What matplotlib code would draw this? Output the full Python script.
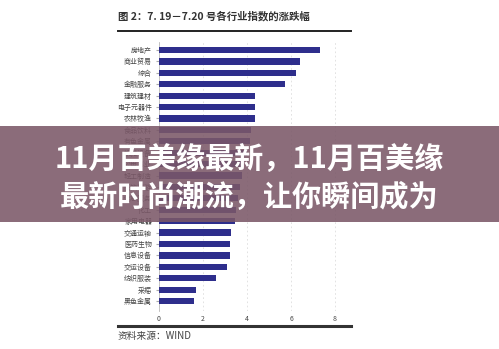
import matplotlib.pyplot as plt
from matplotlib.patches import Rectangle
from matplotlib.lines import Line2D

plt.rcParams['font.family'] = ['Noto Sans CJK SC', 'DejaVu Sans']

# 行业与涨跌幅 (%)
industries = ['房地产', '商业贸易', '综合', '金融服务', '建筑建材', '电子元器件',
              '农林牧渔', '食品饮料', '有色金属', '机械设备', '公用事业', '轻工制造',
              '餐饮旅游', '信息服务', '化工', '家用电器', '交通运输', '医药生物',
              '信息设备', '交运设备', '纺织服装', '采掘', '黑色金属']
changes = [7.32, 6.41, 6.21, 5.73, 4.38, 4.35, 4.35, 4.17, 4.13, 3.98, 3.88,
           3.77, 3.68, 3.60, 3.49, 3.44, 3.27, 3.23, 3.23, 3.09, 2.60, 1.68, 1.59]
xticks = [0, 2, 4, 6, 8]

title = '图 2：7. 19－7.20 号各行业指数的涨跌幅'
source = '资料来源：WIND'
banner_lines = ['11月百美缘最新，11月百美缘', '最新时尚潮流，让你瞬间成为']

W, H = 499, 349
fig = plt.figure(figsize=(W / 100, H / 100), dpi=100)
fig.patch.set_facecolor('white')

ax = fig.add_axes([159 / W, 1 - 311 / H, 186 / W, 269 / H])
pos = list(range(len(industries)))
ax.barh(pos, changes, height=0.55, color='#2e2e8c', zorder=3)
ax.set_yticks(pos)
ax.set_yticklabels(industries, fontsize=5, color='#444444')
ax.set_xticks(xticks)
ax.set_xticklabels([str(t) for t in xticks], fontsize=5, color='#444444')
ax.set_xlim(0, 8.45)
ax.set_ylim(22.87, -0.7)
ax.tick_params(axis='y', length=2, pad=3, color='#aaaaaa')
ax.tick_params(axis='x', length=0, pad=3)
ax.grid(axis='x', linestyle=(0, (2, 3)), color='#dddddd', linewidth=0.6, zorder=0)
for side in ['top', 'right', 'bottom']:
    ax.spines[side].set_visible(False)
ax.spines['left'].set_color('#bbbbbb')
ax.spines['left'].set_linewidth(0.6)

fig.text(118 / W, 1 - 16 / H, title, fontsize=7.5, fontweight='bold',
         color='#333333', ha='left', va='center')
fig.add_artist(Line2D([118 / W, 351 / W], [1 - 31 / H, 1 - 31 / H],
                      color='#222222', linewidth=1.4))
fig.add_artist(Line2D([118 / W, 351 / W], [1 - 326 / H, 1 - 326 / H],
                      color='#333333', linewidth=2.2))
fig.text(118 / W, 1 - 336 / H, source, fontsize=7, color='#444444',
         ha='left', va='center')

# 覆盖横幅
fig.add_artist(Rectangle((0, 1 - 222 / H), 1, 96 / H, transform=fig.transFigure,
                         facecolor='#7b5868', alpha=0.88, edgecolor='none', zorder=10))
fig.text(0.5, 1 - 159 / H, banner_lines[0], fontsize=21, fontweight='bold',
         color='white', ha='center', va='center', zorder=11)
fig.text(0.5, 1 - 197 / H, banner_lines[1], fontsize=21, fontweight='bold',
         color='white', ha='center', va='center', zorder=11)

fig.savefig('out.png', dpi=100)
